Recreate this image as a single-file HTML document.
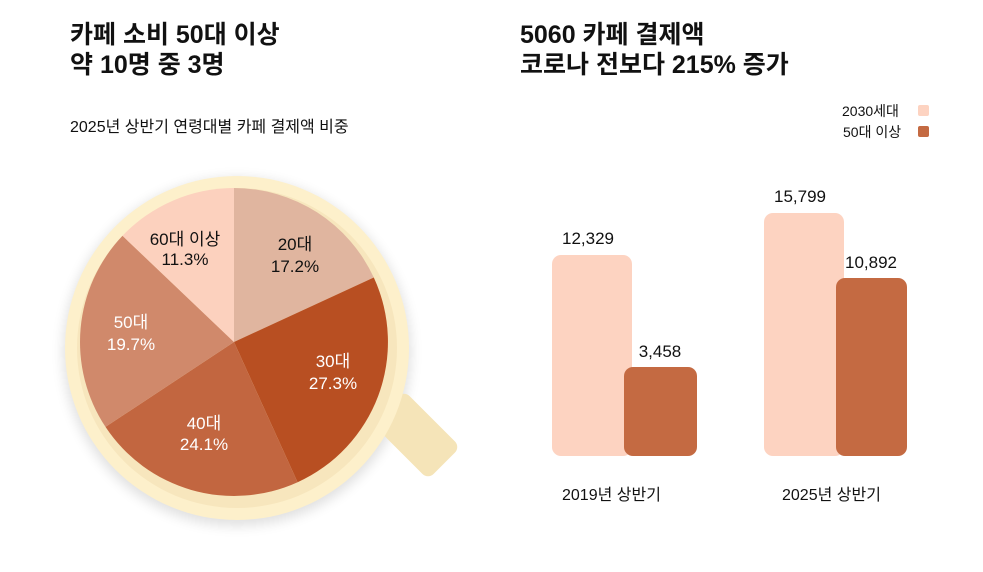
<!DOCTYPE html>
<html><head><meta charset="utf-8"><style>
body{margin:0;width:983px;height:572px;background:#fff;overflow:hidden;font-family:"Liberation Sans","Noto Sans CJK KR",sans-serif;position:relative;color:#111}
.t{position:absolute;font-weight:bold;font-size:25px;line-height:30px}
.s{position:absolute;font-size:16px}
.bar{position:absolute;border-radius:9px}
.v{position:absolute;font-size:17px;text-align:center;width:90px}
</style></head><body>
<div class="t" style="left:70px;top:20px">카페 소비 50대 이상<br>약 10명 중 3명</div>
<div class="t" style="left:520px;top:20px">5060 카페 결제액<br>코로나 전보다 215% 증가</div>
<div class="s" style="left:70px;top:113px">2025년 상반기 연령대별 카페 결제액 비중</div>
<svg style="position:absolute;left:0;top:0" width="983" height="572">
<defs><filter id="sh" x="-20%" y="-20%" width="140%" height="140%"><feGaussianBlur stdDeviation="6"/></filter></defs>
<circle cx="237" cy="352" r="174" fill="#000" opacity="0.12" filter="url(#sh)"/>
<rect x="393" y="395" width="46" height="80" rx="8" fill="#f5e4b8" transform="rotate(-45 416 435)"/>
<circle cx="237" cy="348" r="172" fill="#fdf0cb"/>
<circle cx="237" cy="348" r="160" fill="#f7e6bd"/>
<g transform="translate(234,342)">
<path d="M0,0 L0,-154 A154,154 0 0 1 139.8,-64.5 Z" fill="#e0b59f"/>
<path d="M0,0 L139.8,-64.5 A154,154 0 0 1 63.6,140.2 Z" fill="#b84f22"/>
<path d="M0,0 L63.6,140.2 A154,154 0 0 1 -128.5,84.9 Z" fill="#c26640"/>
<path d="M0,0 L-128.5,84.9 A154,154 0 0 1 -111.5,-106.2 Z" fill="#d0896b"/>
<path d="M0,0 L-111.5,-106.2 A154,154 0 0 1 0,-154 Z" fill="#fcd1be"/>
</g>
<g font-size="17" text-anchor="middle">
<text x="185" y="245" fill="#111">60대 이상</text><text x="185" y="265" fill="#111">11.3%</text>
<text x="295" y="250" fill="#111">20대</text><text x="295" y="272" fill="#111">17.2%</text>
<text x="333" y="367" fill="#fff">30대</text><text x="333" y="389" fill="#fff">27.3%</text>
<text x="131" y="328" fill="#fff">50대</text><text x="131" y="350" fill="#fff">19.7%</text>
<text x="204" y="429" fill="#fff">40대</text><text x="204" y="450" fill="#fff">24.1%</text>
</g>
</svg>
<div class="s" style="left:842px;top:101px;font-size:14px">2030세대</div>
<div style="position:absolute;left:918px;top:105px;width:11px;height:11px;background:#fdd3c1;border-radius:2px"></div>
<div class="s" style="left:843px;top:122px;font-size:14px">50대 이상</div>
<div style="position:absolute;left:918px;top:126px;width:11px;height:11px;background:#c46a42;border-radius:2px"></div>
<div class="bar" style="left:552px;top:255px;width:80px;height:201px;background:#fdd3c1"></div>
<div class="bar" style="left:624px;top:367px;width:73px;height:89px;background:#c46a42"></div>
<div class="bar" style="left:764px;top:213px;width:80px;height:243px;background:#fdd3c1"></div>
<div class="bar" style="left:836px;top:278px;width:71px;height:178px;background:#c46a42"></div>
<div class="v" style="left:543px;top:229px">12,329</div>
<div class="v" style="left:615px;top:342px">3,458</div>
<div class="v" style="left:755px;top:187px">15,799</div>
<div class="v" style="left:826px;top:253px">10,892</div>
<div class="s" style="left:562px;top:481px">2019년 상반기</div>
<div class="s" style="left:782px;top:481px">2025년 상반기</div>
</body></html>
